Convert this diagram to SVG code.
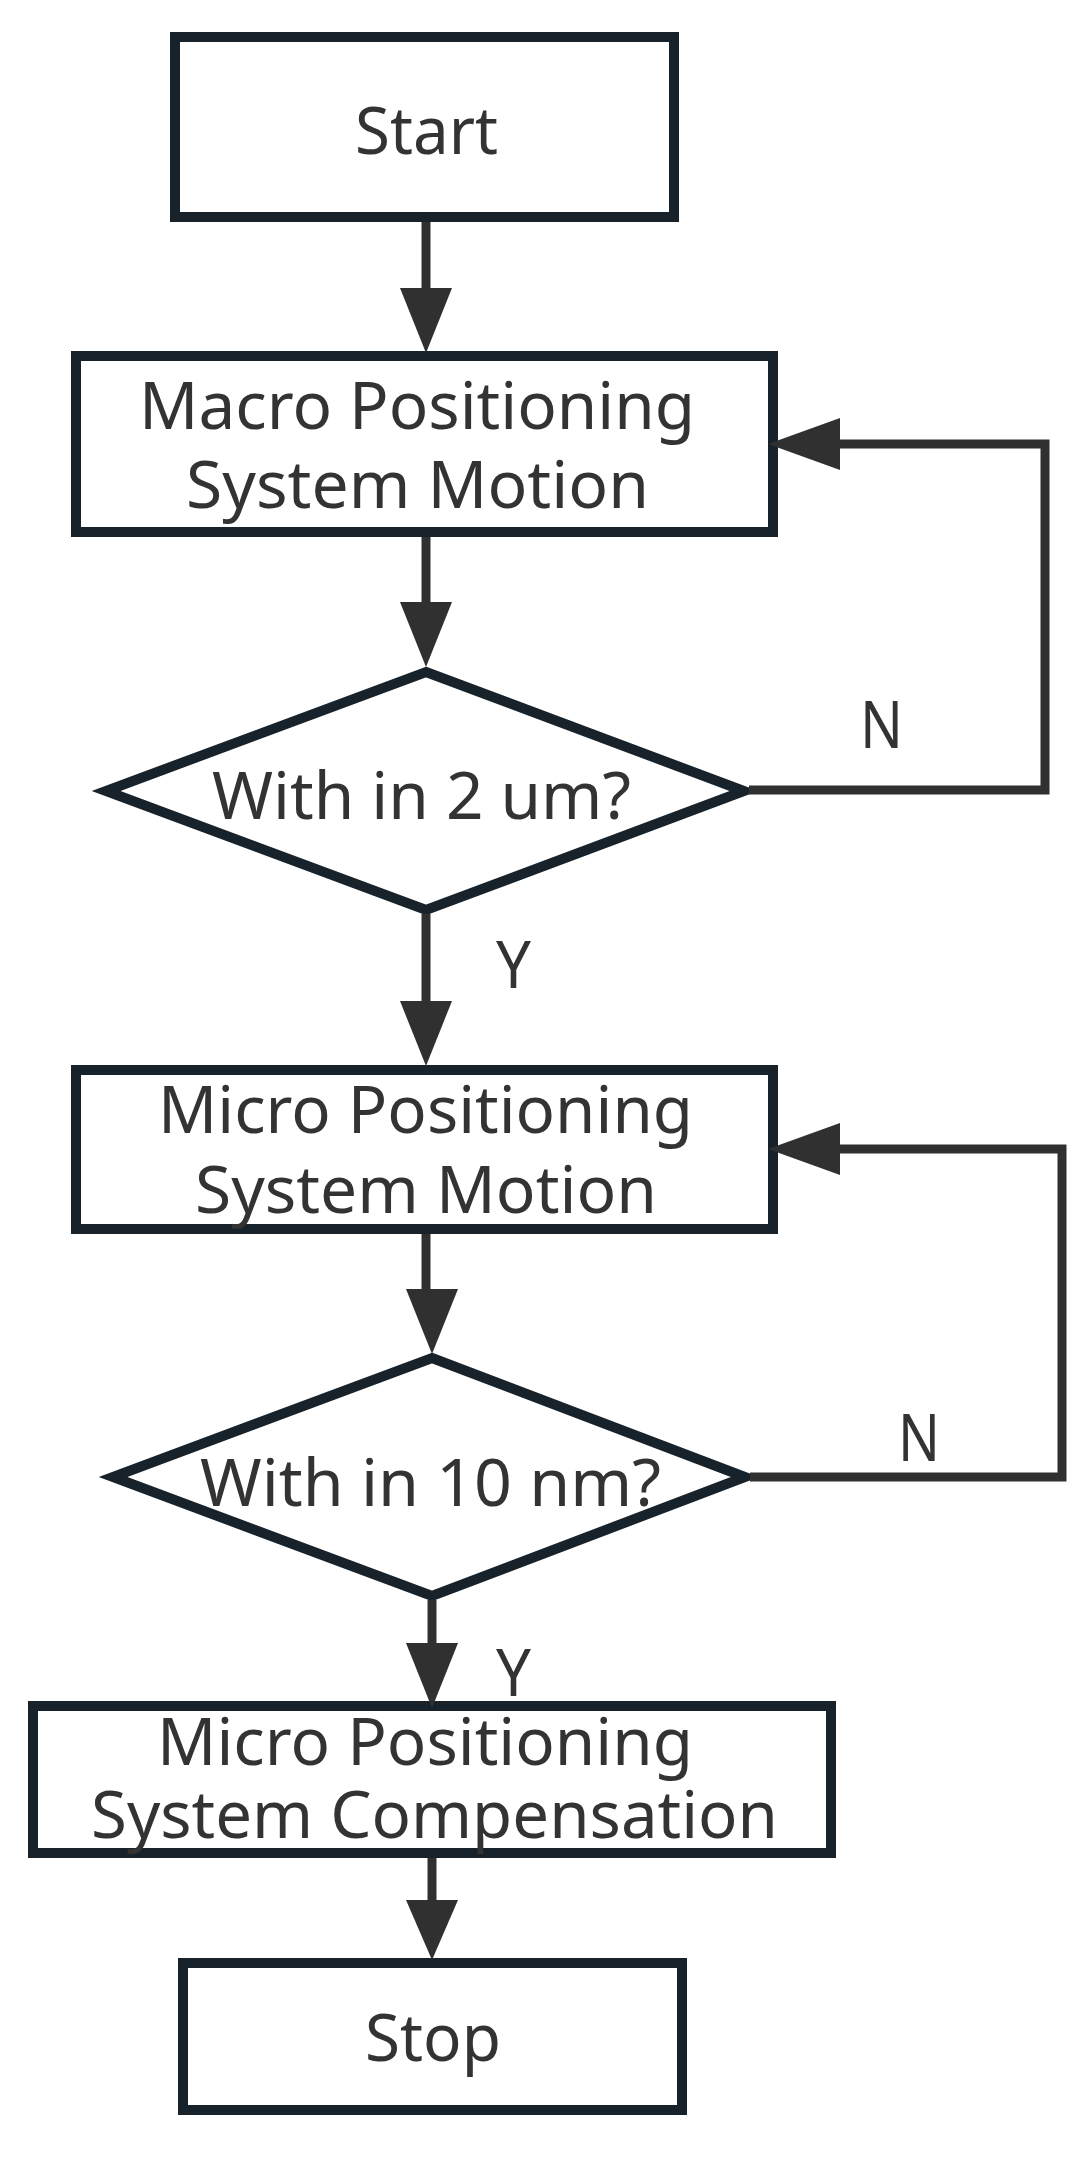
<svg xmlns="http://www.w3.org/2000/svg" width="1084" height="2182" viewBox="0 0 1084 2182">
<style>
.box{fill:#fff;stroke:#17222b;stroke-width:10}
.t{font-family:"Noto Sans","Open Sans",sans-serif;font-size:66px;fill:#333}
.lbl{font-family:"Noto Sans","Open Sans",sans-serif;font-size:66px;fill:#333}
.c{fill:none;stroke:#303030;stroke-width:9}
.ah{fill:#303030}
</style>
<rect width="1084" height="2182" fill="#fff"/>
<g id="start"><rect class="box" x="175" y="37" width="499" height="180"/>
<text class="t" x="355" y="154" textLength="143" lengthAdjust="spacingAndGlyphs">Start</text></g>
<g id="macro"><rect class="box" x="76" y="356" width="697" height="176"/>
<text class="t" x="139" y="429" textLength="556" lengthAdjust="spacingAndGlyphs">Macro Positioning</text>
<text class="t" x="186" y="508" textLength="463" lengthAdjust="spacingAndGlyphs">System Motion</text></g>
<g id="dec1"><polygon class="box" points="426,672 744,791 426,910 106,791"/>
<text class="t" x="212" y="819" textLength="419" lengthAdjust="spacingAndGlyphs">With in 2 um?</text></g>
<g id="micro"><rect class="box" x="76" y="1070" width="697" height="159"/>
<text class="t" x="158" y="1133" textLength="535" lengthAdjust="spacingAndGlyphs">Micro Positioning</text>
<text class="t" x="195" y="1213" textLength="462" lengthAdjust="spacingAndGlyphs">System Motion</text></g>
<g id="dec2"><polygon class="box" points="432,1358 745,1477 432,1596 113,1477"/>
<text class="t" x="200" y="1506" textLength="461" lengthAdjust="spacingAndGlyphs">With in 10 nm?</text></g>
<g id="comp"><rect class="box" x="33" y="1706" width="798" height="147"/>
<text class="t" x="157" y="1765" textLength="536" lengthAdjust="spacingAndGlyphs">Micro Positioning</text>
<text class="t" x="91" y="1838" textLength="687" lengthAdjust="spacingAndGlyphs">System Compensation</text></g>
<g id="stop"><rect class="box" x="183" y="1963" width="499" height="147"/>
<text class="t" x="365" y="2061" textLength="136" lengthAdjust="spacingAndGlyphs">Stop</text></g>
<g id="connectors">
<line class="c" x1="426" y1="222" x2="426" y2="292"/><polygon class="ah" points="400,288 452,288 426,353"/>
<line class="c" x1="426" y1="537" x2="426" y2="606"/><polygon class="ah" points="400,602 452,602 426,667"/>
<line class="c" x1="426" y1="914" x2="426" y2="1005"/><polygon class="ah" points="400,1001 452,1001 426,1066"/>
<line class="c" x1="426" y1="1234" x2="426" y2="1292"/><polygon class="ah" points="406,1289 458,1289 432,1354"/>
<line class="c" x1="432" y1="1600" x2="432" y2="1646"/><polygon class="ah" points="406,1643 458,1643 432,1708"/>
<line class="c" x1="432" y1="1858" x2="432" y2="1903"/><polygon class="ah" points="406,1900 458,1900 432,1960"/>
<polyline class="c" stroke-width="10" points="749,790 1045,790 1045,444 836,444"/><polygon class="ah" points="840,418 840,470 768,444"/>
<polyline class="c" stroke-width="10" points="750,1477 1062,1477 1062,1149 836,1149"/><polygon class="ah" points="840,1123 840,1175 768,1149"/>
<text class="lbl" x="860" y="748" textLength="43" lengthAdjust="spacingAndGlyphs">N</text>
<text class="lbl" x="496" y="988" textLength="35" lengthAdjust="spacingAndGlyphs">Y</text>
<text class="lbl" x="898" y="1461" textLength="42" lengthAdjust="spacingAndGlyphs">N</text>
<text class="lbl" x="496" y="1696" textLength="35" lengthAdjust="spacingAndGlyphs">Y</text>
</g>
</svg>
